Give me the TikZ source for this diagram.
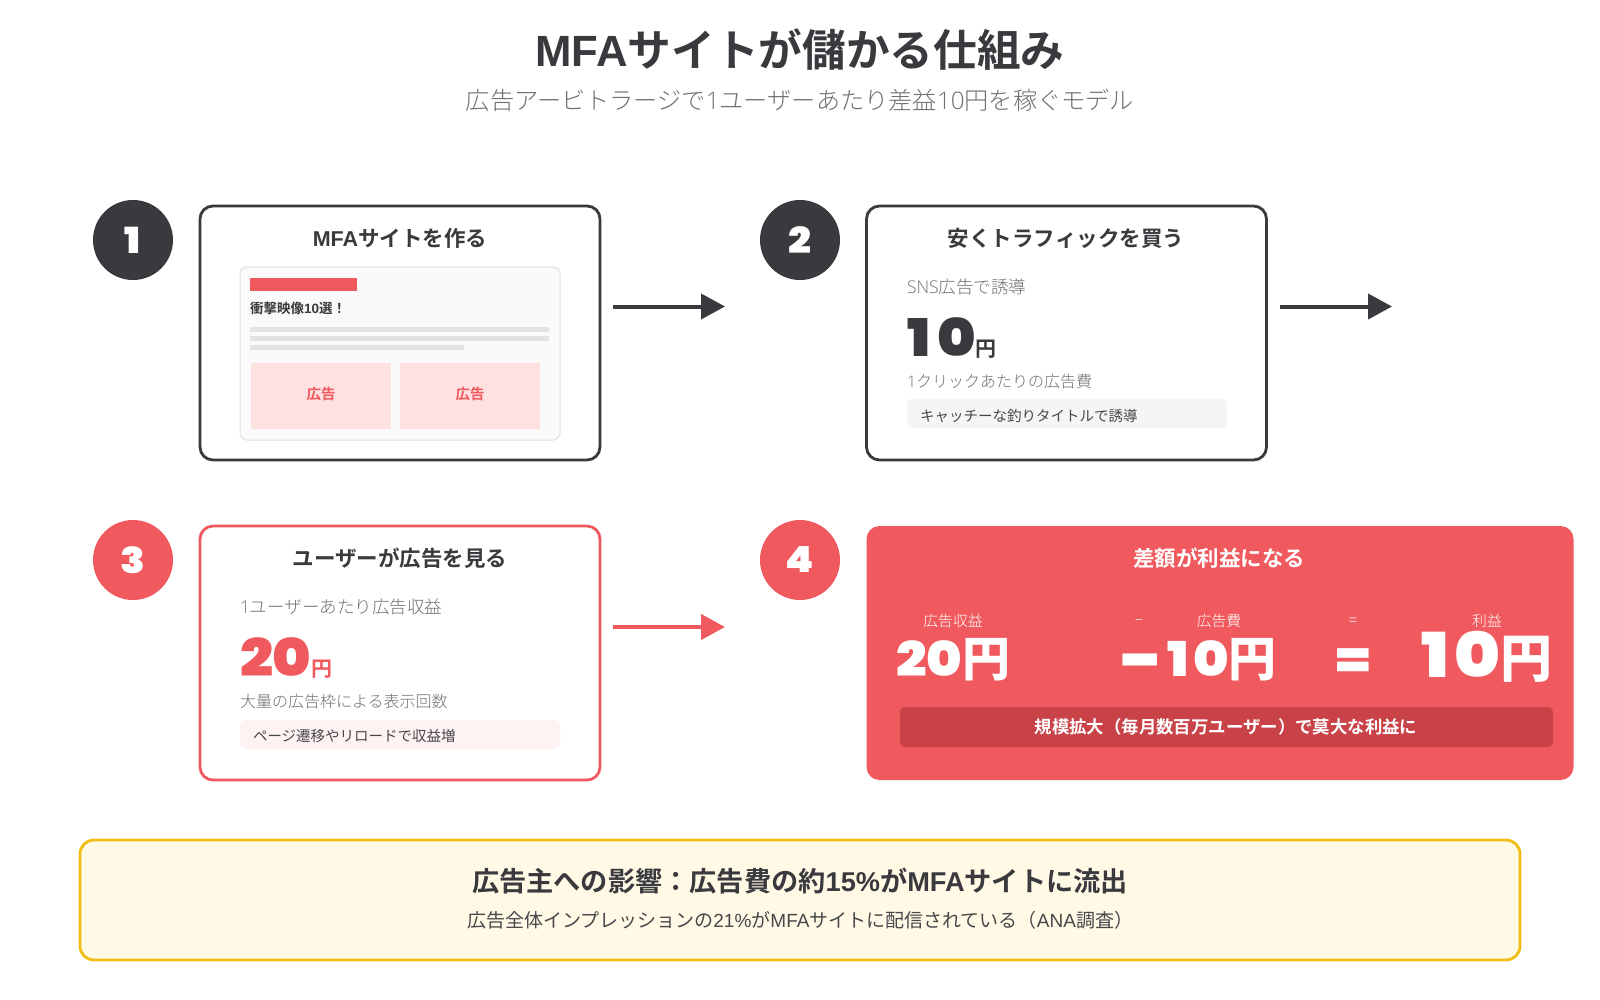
\documentclass[tikz,border=0pt]{standalone}
\usepackage{fontspec}
\setmainfont{Noto Sans CJK JP}[BoldFont={Noto Sans CJK JP Bold}]
\newfontfamily\jpblack{Noto Sans CJK JP Black}
\newfontfamily\jplight{Noto Sans CJK JP Light}
\newfontfamily\lat{Liberation Sans}
\newfontfamily\latl{Open Sans Light}
\newfontfamily\numf{Poppins Black}[FakeStretch=1.12]
\definecolor{ink}{HTML}{3A3A3E}
\definecolor{coral}{HTML}{F05A5E}
\definecolor{coraldark}{HTML}{C84248}
\definecolor{grayt}{HTML}{707073}
\definecolor{midt}{HTML}{48484B}
\definecolor{adpink}{HTML}{FFE1E1}
\definecolor{gold}{HTML}{F0BC18}
\definecolor{cream}{HTML}{FFF9E6}
\newcommand{\fs}[1]{\fontsize{#1pt}{#1pt}\selectfont}
\newcommand{\lt}[1]{{\lat #1}}
\newcommand{\lgt}[1]{{\latl #1}}
\usetikzlibrary{arrows.meta}
\tikzset{
 txt/.style={inner sep=0pt,outer sep=0pt,execute at begin node={\rule[-0.12em]{0pt}{0.88em}}},
 left/.style={txt,anchor=west},
 card/.style={draw=ink,line width=2.8pt,rounded corners=13pt,fill=white,inner sep=0pt,minimum width=400pt,minimum height=254pt},
 cardred/.style={card,draw=coral},
 badge/.style={circle,fill=ink,text=white,minimum size=80pt,inner sep=0pt,font=\numf\fs{36}},
 badgered/.style={badge,fill=coral},
 cardtitle/.style={txt,font=\bfseries\fs{21.5},text=ink},
 note/.style={left,font=\jplight\fs{17.5},text=grayt},
 small/.style={left,font=\fs{14.5},text=midt},
 rect/.style={inner sep=0pt,outer sep=0pt,anchor=north west},
 arr/.style={line width=4pt,draw=ink,-{Triangle[length=24pt,width=25pt]}},
 flat/.style={rect,fill=#1},
 ad/.style={rect,fill=adpink,minimum width=140pt,minimum height=66pt,text=coral,font=\bfseries\fs{14.5},execute at begin node={\rule[-0.4em]{0pt}{1.28em}}},
 big/.style={inner sep=0pt,outer sep=0pt,anchor=base west,font=\numf\fs{52}},
 wlab/.style={txt,text=white,font=\jplight\fs{14.8}},
 wbig/.style={inner sep=0pt,outer sep=0pt,text=white,anchor=base,font=\numf\fs{48}},
}
\begin{document}
\begin{tikzpicture}[x=1pt,y=-1pt]
\useasboundingbox (0,0) rectangle (1600,1000);
\fill[white] (0,0) rectangle (1600,1000);
% title
\node[txt,font=\bfseries\fs{43.7},text=ink] (title) at (800,50) {\lt{MFA}サイトが儲かる仕組み};
\node[txt,font=\jplight\fs{24.2},text=grayt] (subtitle) at (800,101) {広告アービトラージで\lgt{1}ユーザーあたり差益\lgt{10}円を稼ぐモデル};
% badges
\node[badge] (b1) at (133,240) {1};
\node[badge] (b2) at (800,240) {2};
\node[badgered] (b3) at (133,560) {3};
\node[badgered] (b4) at (800,560) {4};
% card 1
\node[card] (c1) at (400,333) {};
\node[cardtitle] (c1t) at (400,239) {\lt{MFA}サイトを作る};
\node[rect,draw=black!12,line width=1pt,fill=black!2,rounded corners=7pt,minimum width=320pt,minimum height=173pt] (mock) at (240,267) {};
\node[flat=coral,minimum width=107pt,minimum height=13pt] (mockbar) at (250,278) {};
\node[left,font=\bfseries\fs{13.5},text=ink] (mockh) at (250,309) {衝撃映像\lt{10}選！};
\node[flat=black!11,minimum width=299pt,minimum height=4.5pt] (ml1) at (250,327) {};
\node[flat=black!11,minimum width=299pt,minimum height=4.5pt] (ml2) at (250,336) {};
\node[flat=black!11,minimum width=214pt,minimum height=4.5pt] (ml3) at (250,345) {};
\node[ad] (ad1) at (251,363) {広告};
\node[ad] (ad2) at (400,363) {広告};
% card 2
\node[card] (c2) at (1066.5,333) {};
\node[cardtitle] (c2t) at (1066,239) {安くトラフィックを買う};
\node[note] (c2a) at (907,287) {\lgt{SNS}広告で誘導};
\node[big,text=ink] (c2n) at (907,356) {1\kern7pt 0{\rmfamily\fs{21}\bfseries 円}};
\node[note,font=\jplight\fs{16}] (c2b) at (907,382) {\lgt{1}クリックあたりの広告費};
\node[rect,fill=black!4,rounded corners=5pt,minimum width=320pt,minimum height=29pt] (c2p) at (907,399) {};
\node[small] (c2pt) at (920,416) {キャッチーな釣りタイトルで誘導};
% card 3
\node[cardred] (c3) at (400,653) {};
\node[cardtitle] (c3t) at (400,558) {ユーザーが広告を見る};
\node[note] (c3a) at (240,607) {\lgt{1}ユーザーあたり広告収益};
\node[big,text=coral] (c3n) at (240,676) {20{\rmfamily\fs{21}\bfseries 円}};
\node[note,font=\jplight\fs{16}] (c3b) at (240,702) {大量の広告枠による表示回数};
\node[rect,fill=coral!8,rounded corners=5pt,minimum width=320pt,minimum height=29pt] (c3p) at (240,720) {};
\node[small] (c3pt) at (253,736) {ページ遷移やリロードで収益増};
% card 4
\node[rect,fill=coral,rounded corners=13pt,minimum width=707pt,minimum height=254pt] (c4) at (866.5,526) {};
\node[cardtitle,text=white] (c4t) at (1219,558) {差額が利益になる};
\node[wlab] (l1) at (953,621) {広告収益};
\node[wlab] (l2) at (1139,621) {−};
\node[wlab] (l3) at (1219,621) {広告費};
\node[wlab] (l4) at (1353,621) {=};
\node[wlab] (l5) at (1487,621) {利益};
\node[wbig] (n1) at (953,676) {20{\jpblack\fs{48}円}};
\node[wbig] (n2) at (1199,676) {\raisebox{-6pt}[0pt][0pt]{\numf\fs{66}−}\kern9pt 1\kern4pt 0{\jpblack\fs{48}円}};
\node[wbig] (n3) at (1353,676) {=};
\node[wbig,font=\numf\fs{62}] (n4) at (1487,677) {1\kern6pt 0{\jpblack\fs{52}円}};
\node[rect,fill=coraldark,rounded corners=5pt,minimum width=653pt,minimum height=40pt] (c4p) at (900,707) {};
\node[txt,text=white,font=\bfseries\fs{17.4}] (c4pt) at (1226,727) {規模拡大（毎月数百万ユーザー）で莫大な利益に};
% arrows
\coordinate (a1s) at (613,306.5); \coordinate (a1e) at (725,306.5);
\coordinate (a2s) at (1280,306.5); \coordinate (a2e) at (1392,306.5);
\coordinate (a3s) at (613,627); \coordinate (a3e) at (725,627);
\draw[arr] (a1s) -- (a1e);
\draw[arr] (a2s) -- (a2e);
\draw[arr,draw=coral] (a3s) -- (a3e);
% bottom
\node[rect,draw=gold,line width=2.8pt,fill=cream,rounded corners=14pt,minimum width=1440pt,minimum height=120pt] (imp) at (80,840) {};
\node[txt,font=\bfseries\fs{27.2},text=ink] (impt) at (800,881) {広告主への影響：広告費の約\lt{15\%}が\lt{MFA}サイトに流出};
\node[txt,font=\fs{19},text=midt] (imps) at (800,920) {広告全体インプレッションの\lt{21\%}が\lt{MFA}サイトに配信されている（\lt{ANA}調査）};
\end{tikzpicture}
\end{document}
